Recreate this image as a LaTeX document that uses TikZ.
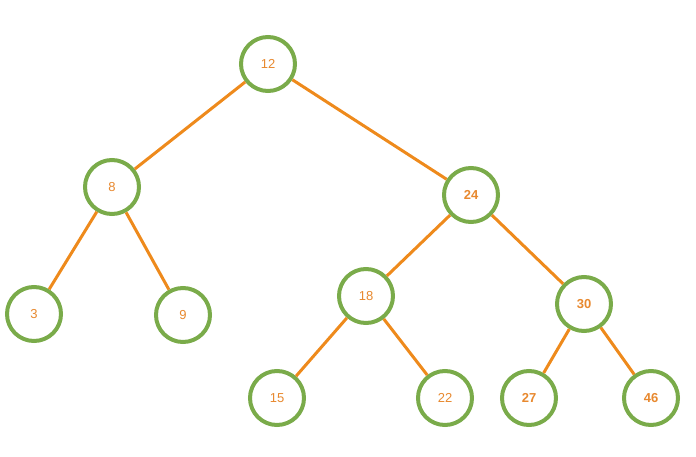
\documentclass[tikz,border=0pt]{standalone}
\usepackage{fontspec}
\setmainfont{Liberation Sans}
\definecolor{ringgreen}{HTML}{7AAB4A}
\definecolor{linkorange}{HTML}{EE8A1C}
\definecolor{keyorange}{HTML}{E8892F}
\tikzset{
  keynode/.style={circle, draw=ringgreen, line width=4pt, fill=white, minimum size=54pt, inner sep=0pt, text=keyorange, font=\fontsize{13}{15}\selectfont},
  boldkey/.style={keynode, font=\fontsize{13}{15}\selectfont\bfseries},
  link/.style={linkorange, line width=3pt}
}
\begin{document}
\begin{tikzpicture}[x=1pt, y=-1pt]
\path[use as bounding box] (0,0) rectangle (696,457);
\node[keynode] (n12) at (268,64) {12};
\node[keynode] (n8) at (112,187) {8};
\node[boldkey] (n24) at (471,195) {24};
\node[keynode] (n3) at (34,314) {3};
\node[keynode] (n9) at (183,315) {9};
\node[keynode] (n18) at (366,296) {18};
\node[boldkey] (n30) at (584,304) {30};
\node[keynode] (n15) at (277,398) {15};
\node[keynode] (n22) at (445,398) {22};
\node[boldkey] (n27) at (529,398) {27};
\node[boldkey] (n46) at (651,398) {46};
\draw[link] (n12) -- (n8);
\draw[link] (n12) -- (n24);
\draw[link] (n8) -- (n3);
\draw[link] (n8) -- (n9);
\draw[link] (n24) -- (n18);
\draw[link] (n24) -- (n30);
\draw[link] (n18) -- (n15);
\draw[link] (n18) -- (n22);
\draw[link] (n30) -- (n27);
\draw[link] (n30) -- (n46);
\end{tikzpicture}
\end{document}
